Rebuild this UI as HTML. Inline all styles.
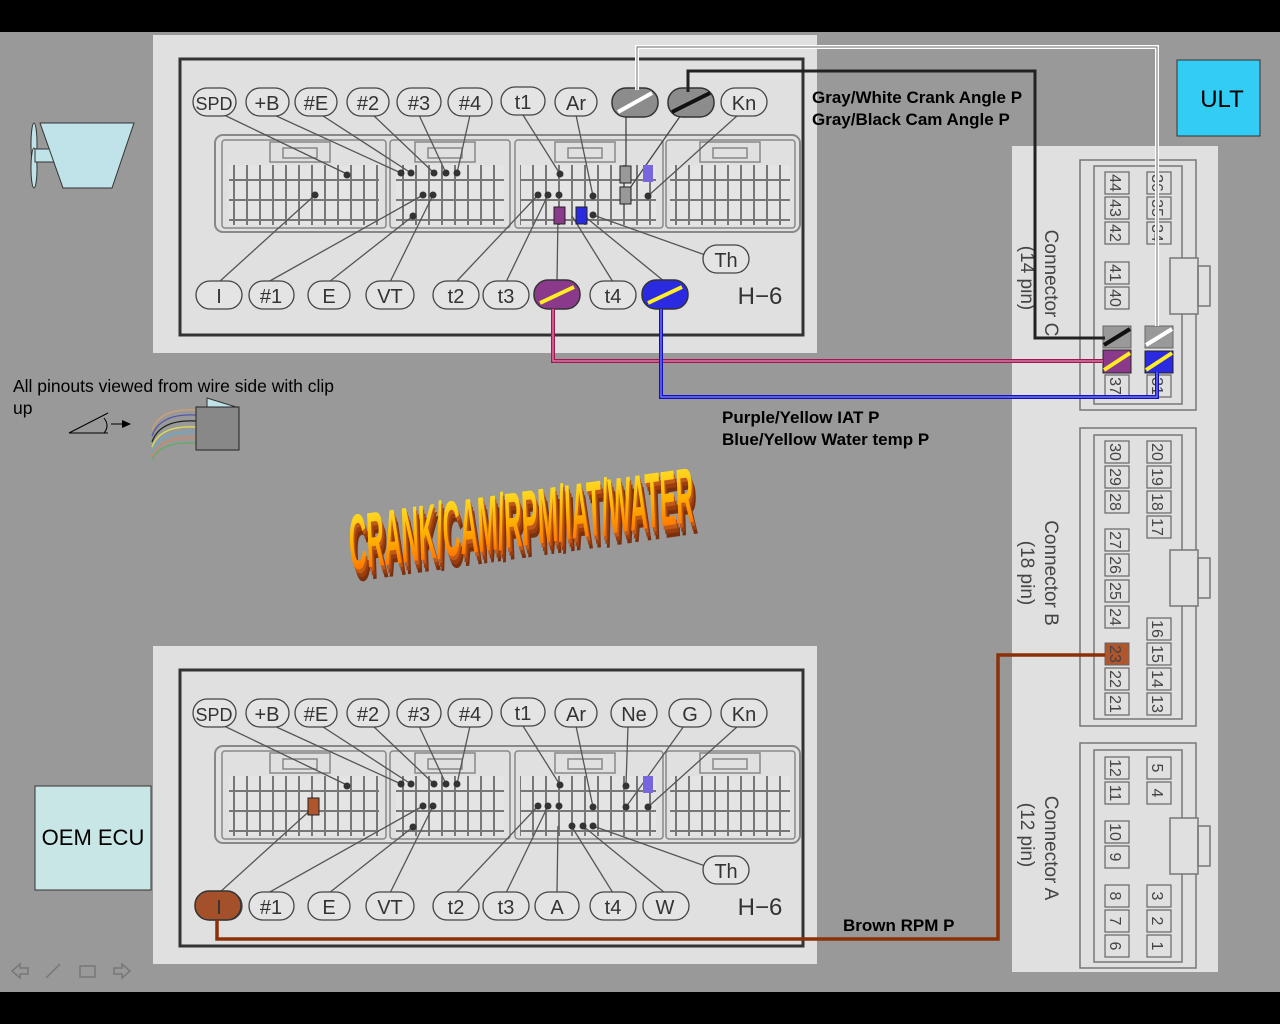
<!DOCTYPE html>
<html><head><meta charset="utf-8"><style>
html,body{margin:0;padding:0;background:#000;}
svg{display:block;font-family:"Liberation Sans",sans-serif;}
</style></head><body>
<svg width="1280" height="1024" viewBox="0 0 1280 1024" xmlns="http://www.w3.org/2000/svg">
<defs>
<pattern id="cell" x="0" y="0" width="13" height="20" patternUnits="userSpaceOnUse">
<rect x="0.5" y="0.5" width="12" height="19" fill="#e4e4e4" stroke="#777" stroke-width="1"/>
</pattern>
<linearGradient id="wa" x1="0" y1="0" x2="0" y2="1">
<stop offset="0" stop-color="#ffee33"/><stop offset="0.5" stop-color="#ffb000"/><stop offset="1" stop-color="#ff5500"/>
</linearGradient>
<g id="ecu">
<rect x="215" y="135" width="585" height="97" rx="8" fill="#e0e0e0" stroke="#888" stroke-width="2"/>
<g fill="none" stroke="#888" stroke-width="1.5">
<rect x="222" y="140" width="164" height="88" rx="3"/>
<rect x="390" y="140" width="120" height="88" rx="3"/>
<rect x="515" y="140" width="148" height="88" rx="3"/>
<rect x="666" y="140" width="129" height="88" rx="3"/>
<rect x="270" y="142" width="60" height="20"/><rect x="283" y="148" width="34" height="10"/>
<rect x="415" y="142" width="60" height="20"/><rect x="428" y="148" width="34" height="10"/>
<rect x="555" y="142" width="60" height="20"/><rect x="568" y="148" width="34" height="10"/>
<rect x="700" y="142" width="60" height="20"/><rect x="713" y="148" width="34" height="10"/>
</g>
<rect x="229" y="165" width="150" height="60" fill="url(#cell)"/>
<rect x="396" y="165" width="108" height="60" fill="url(#cell)"/>
<rect x="520" y="165" width="136" height="60" fill="url(#cell)"/>
<rect x="670" y="165" width="120" height="60" fill="url(#cell)"/>
<g stroke="#555" stroke-width="1.3" fill="none">
<line x1="222" y1="114" x2="347" y2="174"/>
<line x1="272" y1="114" x2="401" y2="173"/>
<line x1="320" y1="114" x2="411" y2="173"/>
<line x1="372" y1="114" x2="434" y2="173"/>
<line x1="419" y1="115" x2="446" y2="173"/>
<line x1="470" y1="115" x2="457" y2="173"/>
<line x1="523" y1="115" x2="560" y2="174"/>
<line x1="576" y1="115" x2="593" y2="196"/>
<line x1="738" y1="115" x2="648" y2="196"/>
<line x1="219" y1="282" x2="315" y2="195"/>
<line x1="268" y1="282" x2="423" y2="195"/>
<line x1="329" y1="282" x2="413" y2="216"/>
<line x1="390" y1="282" x2="433" y2="195"/>
<line x1="456" y1="282" x2="538" y2="195"/>
<line x1="506" y1="282" x2="548" y2="195"/>
<line x1="557" y1="282" x2="558" y2="215"/>
<line x1="613" y1="282" x2="572" y2="216"/>
<line x1="665" y1="282" x2="583" y2="215"/>
<line x1="708" y1="256" x2="593" y2="215"/>
</g>
<g fill="#333">
<circle cx="347" cy="175" r="3.5"/><circle cx="401" cy="173" r="3.5"/><circle cx="411" cy="173" r="3.5"/>
<circle cx="434" cy="173" r="3.5"/><circle cx="446" cy="173" r="3.5"/><circle cx="457" cy="173" r="3.5"/>
<circle cx="560" cy="174" r="3.5"/><circle cx="593" cy="196" r="3.5"/><circle cx="648" cy="196" r="3.5"/>
<circle cx="315" cy="195" r="3.5"/><circle cx="423" cy="195" r="3.5"/><circle cx="433" cy="195" r="3.5"/>
<circle cx="413" cy="216" r="3.5"/><circle cx="538" cy="195" r="3.5"/><circle cx="548" cy="195" r="3.5"/>
<circle cx="559" cy="195" r="3.5"/><circle cx="593" cy="215" r="3.5"/>
</g>
<g fill="#e4e4e4" stroke="#444" stroke-width="1.3">
<rect x="193" y="88" width="43" height="28" rx="14"/><rect x="246" y="88" width="43" height="28" rx="14"/>
<rect x="295" y="88" width="42" height="28" rx="14"/><rect x="347" y="88" width="42" height="28" rx="14"/>
<rect x="397" y="88" width="44" height="28" rx="14"/><rect x="448" y="88" width="44" height="28" rx="14"/>
<rect x="501" y="87" width="44" height="28" rx="14"/><rect x="555" y="88" width="42" height="28" rx="14"/>
<rect x="721" y="88" width="46" height="28" rx="14"/>
<rect x="196" y="281" width="46" height="28" rx="14"/><rect x="249" y="281" width="45" height="28" rx="14"/>
<rect x="308" y="281" width="42" height="28" rx="14"/><rect x="366" y="281" width="48" height="28" rx="14"/>
<rect x="433" y="281" width="46" height="28" rx="14"/><rect x="483" y="281" width="46" height="28" rx="14"/>
<rect x="590" y="281" width="46" height="28" rx="14"/>
<rect x="703" y="245" width="46" height="28" rx="14"/>
</g>
</g>
</defs>
<rect x="0" y="32" width="1280" height="960" fill="#999"/>

<!-- top ECU panel -->
<rect x="153" y="35" width="664" height="318" fill="#e0e0e0"/>
<rect x="180" y="59" width="623" height="276" fill="#e0e0e0" stroke="#333" stroke-width="3"/>
<use href="#ecu"/>
<g font-size="20" fill="#333" text-anchor="middle">
<text x="214" y="110" font-size="18">SPD</text><text x="267" y="110">+B</text><text x="316" y="110">#E</text>
<text x="368" y="110">#2</text><text x="419" y="110">#3</text><text x="470" y="110">#4</text>
<text x="523" y="109">t1</text><text x="576" y="110">Ar</text><text x="744" y="110">Kn</text>
<text x="219" y="303">I</text><text x="271" y="303">#1</text><text x="329" y="303">E</text>
<text x="390" y="303">VT</text><text x="456" y="303">t2</text><text x="506" y="303">t3</text>
<text x="613" y="303">t4</text><text x="726" y="267">Th</text>
<text x="760" y="304" font-size="24">H−6</text>
</g>
<!-- top special -->
<g stroke="#444" stroke-width="1.3">
<line x1="626" y1="115" x2="626" y2="168"/><line x1="681" y1="115" x2="630" y2="188"/>
</g>
<rect x="612" y="88" width="46" height="29" rx="14" fill="#8c8c8c" stroke="#333" stroke-width="1.5"/>
<line x1="618" y1="112" x2="652" y2="93" stroke="#fff" stroke-width="4"/>
<rect x="668" y="88" width="46" height="29" rx="14" fill="#8c8c8c" stroke="#333" stroke-width="1.5"/>
<line x1="672" y1="112" x2="710" y2="93" stroke="#111" stroke-width="4"/>
<rect x="620" y="166" width="11" height="17" fill="#999" stroke="#222"/>
<rect x="620" y="187" width="11" height="17" fill="#999" stroke="#222"/>
<rect x="643" y="165" width="10" height="17" fill="#7766dd"/>
<rect x="554" y="207" width="11" height="17" fill="#8b3a8b" stroke="#222"/>
<rect x="576" y="207" width="11" height="17" fill="#2a2ae0" stroke="#222"/>
<rect x="534" y="280" width="46" height="29" rx="14" fill="#8b3a8b" stroke="#333" stroke-width="1.5"/>
<line x1="540" y1="303" x2="574" y2="287" stroke="#ffee22" stroke-width="4"/>
<rect x="642" y="280" width="46" height="29" rx="14" fill="#2a2ae0" stroke="#333" stroke-width="1.5"/>
<line x1="648" y1="303" x2="682" y2="287" stroke="#ffee22" stroke-width="4"/>

<!-- bottom ECU panel -->
<rect x="153" y="646" width="664" height="318" fill="#e0e0e0"/>
<rect x="180" y="670" width="623" height="276" fill="#e0e0e0" stroke="#333" stroke-width="3"/>
<g transform="translate(0,611)">
<use href="#ecu"/>
<g stroke="#555" stroke-width="1.3"><line x1="628" y1="115" x2="626" y2="174"/><line x1="684" y1="115" x2="626" y2="196"/></g>
<circle cx="626" cy="175" r="3.5" fill="#333"/><circle cx="626" cy="196" r="3.5" fill="#333"/>
<circle cx="583" cy="215" r="3.5" fill="#333"/><circle cx="572" cy="215" r="3.5" fill="#333"/>
<rect x="643" y="165" width="10" height="17" fill="#7766dd"/>
<rect x="308" y="187" width="11" height="17" fill="#b0552c" stroke="#222"/>
<g fill="#e4e4e4" stroke="#444" stroke-width="1.3">
<rect x="611" y="88" width="46" height="28" rx="14"/><rect x="669" y="88" width="42" height="28" rx="14"/>
<rect x="535" y="281" width="44" height="28" rx="14"/><rect x="643" y="281" width="46" height="28" rx="14"/>
</g>
<rect x="195" y="280" width="46" height="29" rx="14" fill="#a4502a" stroke="#333" stroke-width="1.5"/>
</g>
<g font-size="20" fill="#333" text-anchor="middle">
<text x="214" y="721" font-size="18">SPD</text><text x="267" y="721">+B</text><text x="316" y="721">#E</text>
<text x="368" y="721">#2</text><text x="419" y="721">#3</text><text x="470" y="721">#4</text>
<text x="523" y="720">t1</text><text x="576" y="721">Ar</text><text x="634" y="721">Ne</text>
<text x="690" y="721">G</text><text x="744" y="721">Kn</text>
<text x="219" y="914">I</text><text x="271" y="914">#1</text><text x="329" y="914">E</text>
<text x="390" y="914">VT</text><text x="456" y="914">t2</text><text x="506" y="914">t3</text>
<text x="557" y="914">A</text><text x="613" y="914">t4</text><text x="665" y="914">W</text>
<text x="726" y="878">Th</text>
<text x="760" y="915" font-size="24">H−6</text>
</g>

<!-- right connector panel -->
<rect x="1012" y="146" width="206" height="826" fill="#e0e0e0"/>
<g fill="none" stroke="#777" stroke-width="1.5">
<rect x="1080" y="160" width="116" height="250"/><rect x="1094" y="166" width="88" height="238"/>
<rect x="1170" y="258" width="28" height="56" fill="#e0e0e0"/><rect x="1198" y="266" width="12" height="40"/>
<rect x="1080" y="428" width="116" height="298"/><rect x="1094" y="435" width="88" height="284"/>
<rect x="1170" y="550" width="28" height="56" fill="#e0e0e0"/><rect x="1198" y="558" width="12" height="40"/>
<rect x="1080" y="743" width="116" height="225"/><rect x="1094" y="750" width="88" height="212"/>
<rect x="1170" y="818" width="28" height="56" fill="#e0e0e0"/><rect x="1198" y="826" width="12" height="40"/>
</g>
<g fill="#e0e0e0" stroke="#666" stroke-width="1.2">
<rect x="1105" y="172" width="24" height="22"/><rect x="1105" y="197" width="24" height="22"/><rect x="1105" y="222" width="24" height="22"/>
<rect x="1105" y="262" width="24" height="22"/><rect x="1105" y="287" width="24" height="22"/><rect x="1105" y="375" width="24" height="22"/>
<rect x="1147" y="172" width="24" height="22"/><rect x="1147" y="197" width="24" height="22"/><rect x="1147" y="222" width="24" height="22"/>
<rect x="1147" y="375" width="24" height="22"/>
<rect x="1105" y="441" width="24" height="22"/><rect x="1105" y="466" width="24" height="22"/><rect x="1105" y="491" width="24" height="22"/>
<rect x="1105" y="529" width="24" height="22"/><rect x="1105" y="554" width="24" height="22"/><rect x="1105" y="580" width="24" height="22"/><rect x="1105" y="606" width="24" height="22"/>
<rect x="1105" y="668" width="24" height="22"/><rect x="1105" y="693" width="24" height="22"/>
<rect x="1147" y="441" width="24" height="22"/><rect x="1147" y="466" width="24" height="22"/><rect x="1147" y="491" width="24" height="22"/><rect x="1147" y="516" width="24" height="22"/>
<rect x="1147" y="618" width="24" height="22"/><rect x="1147" y="643" width="24" height="22"/><rect x="1147" y="668" width="24" height="22"/><rect x="1147" y="693" width="24" height="22"/>
<rect x="1105" y="757" width="24" height="22"/><rect x="1105" y="782" width="24" height="22"/><rect x="1105" y="821" width="24" height="22"/><rect x="1105" y="846" width="24" height="22"/>
<rect x="1105" y="885" width="24" height="22"/><rect x="1105" y="910" width="24" height="22"/><rect x="1105" y="935" width="24" height="22"/>
<rect x="1147" y="757" width="24" height="22"/><rect x="1147" y="782" width="24" height="22"/>
<rect x="1147" y="885" width="24" height="22"/><rect x="1147" y="910" width="24" height="22"/><rect x="1147" y="935" width="24" height="22"/>
</g>
<rect x="1105" y="643" width="24" height="22" fill="#b0552c" stroke="#666"/>
<g font-size="16" fill="#444">
<text transform="translate(1110,183) rotate(90)" text-anchor="middle">44</text>
<text transform="translate(1110,208) rotate(90)" text-anchor="middle">43</text>
<text transform="translate(1110,233) rotate(90)" text-anchor="middle">42</text>
<text transform="translate(1110,273) rotate(90)" text-anchor="middle">41</text>
<text transform="translate(1110,298) rotate(90)" text-anchor="middle">40</text>
<text transform="translate(1110,386) rotate(90)" text-anchor="middle">37</text>
<text transform="translate(1152,183) rotate(90)" text-anchor="middle">36</text>
<text transform="translate(1152,208) rotate(90)" text-anchor="middle">35</text>
<text transform="translate(1152,233) rotate(90)" text-anchor="middle">34</text>
<text transform="translate(1152,386) rotate(90)" text-anchor="middle">31</text>
<text transform="translate(1110,452) rotate(90)" text-anchor="middle">30</text>
<text transform="translate(1110,477) rotate(90)" text-anchor="middle">29</text>
<text transform="translate(1110,502) rotate(90)" text-anchor="middle">28</text>
<text transform="translate(1110,540) rotate(90)" text-anchor="middle">27</text>
<text transform="translate(1110,565) rotate(90)" text-anchor="middle">26</text>
<text transform="translate(1110,591) rotate(90)" text-anchor="middle">25</text>
<text transform="translate(1110,617) rotate(90)" text-anchor="middle">24</text>
<text transform="translate(1110,654) rotate(90)" text-anchor="middle">23</text>
<text transform="translate(1110,679) rotate(90)" text-anchor="middle">22</text>
<text transform="translate(1110,704) rotate(90)" text-anchor="middle">21</text>
<text transform="translate(1152,452) rotate(90)" text-anchor="middle">20</text>
<text transform="translate(1152,477) rotate(90)" text-anchor="middle">19</text>
<text transform="translate(1152,502) rotate(90)" text-anchor="middle">18</text>
<text transform="translate(1152,527) rotate(90)" text-anchor="middle">17</text>
<text transform="translate(1152,629) rotate(90)" text-anchor="middle">16</text>
<text transform="translate(1152,654) rotate(90)" text-anchor="middle">15</text>
<text transform="translate(1152,679) rotate(90)" text-anchor="middle">14</text>
<text transform="translate(1152,704) rotate(90)" text-anchor="middle">13</text>
<text transform="translate(1110,768) rotate(90)" text-anchor="middle">12</text>
<text transform="translate(1110,793) rotate(90)" text-anchor="middle">11</text>
<text transform="translate(1110,832) rotate(90)" text-anchor="middle">10</text>
<text transform="translate(1110,857) rotate(90)" text-anchor="middle">9</text>
<text transform="translate(1110,896) rotate(90)" text-anchor="middle">8</text>
<text transform="translate(1110,921) rotate(90)" text-anchor="middle">7</text>
<text transform="translate(1110,946) rotate(90)" text-anchor="middle">6</text>
<text transform="translate(1152,768) rotate(90)" text-anchor="middle">5</text>
<text transform="translate(1152,793) rotate(90)" text-anchor="middle">4</text>
<text transform="translate(1152,896) rotate(90)" text-anchor="middle">3</text>
<text transform="translate(1152,921) rotate(90)" text-anchor="middle">2</text>
<text transform="translate(1152,946) rotate(90)" text-anchor="middle">1</text>
</g>
<g font-size="19" fill="#444" text-anchor="middle">
<text transform="translate(1045,283) rotate(90)">Connector C</text>
<text transform="translate(1021,278) rotate(90)">(14 pin)</text>
<text transform="translate(1045,573) rotate(90)">Connector B</text>
<text transform="translate(1021,573) rotate(90)">(18 pin)</text>
<text transform="translate(1045,848) rotate(90)">Connector A</text>
<text transform="translate(1021,835) rotate(90)">(12 pin)</text>
</g>
<!-- colored connector C cells -->
<rect x="1103" y="326" width="28" height="22" fill="#999" stroke="#666"/>
<line x1="1104" y1="345" x2="1130" y2="329" stroke="#111" stroke-width="4"/>
<rect x="1145" y="326" width="28" height="22" fill="#999" stroke="#666"/>
<line x1="1146" y1="345" x2="1172" y2="329" stroke="#fff" stroke-width="4"/>
<rect x="1103" y="350" width="28" height="23" fill="#8b3a8b" stroke="#222"/>
<line x1="1104" y1="370" x2="1130" y2="353" stroke="#ffee22" stroke-width="4"/>
<rect x="1145" y="351" width="28" height="22" fill="#2a2ae0" stroke="#222"/>
<line x1="1146" y1="370" x2="1172" y2="353" stroke="#ffee22" stroke-width="4"/>

<!-- wires -->
<g fill="none">
<polyline points="637,90 637,47 1157,47 1157,326" stroke="#fff" stroke-width="4"/>
<polyline points="637,90 637,47 1157,47 1157,326" stroke="#888" stroke-width="1.2"/>
<polyline points="688,92 688,71 1035,71 1035,338 1105,338" stroke="#222" stroke-width="3"/>
<polyline points="553,309 553,361 1103,361" stroke="#a01850" stroke-width="4"/>
<polyline points="553,309 553,361 1103,361" stroke="#e888b8" stroke-width="1.2"/>
<polyline points="661,309 661,397 1157,397 1157,372" stroke="#1010c0" stroke-width="4"/>
<polyline points="661,309 661,397 1157,397 1157,372" stroke="#8888ff" stroke-width="1.2"/>
<polyline points="217,920 217,939 998,939 998,655 1105,655" stroke="#8b3008" stroke-width="3.5"/>
</g>

<g font-size="17" font-weight="bold" fill="#000">
<text x="812" y="103">Gray/White Crank Angle P</text>
<text x="812" y="125">Gray/Black Cam Angle P</text>
<text x="722" y="423">Purple/Yellow IAT P</text>
<text x="722" y="445">Blue/Yellow Water temp P</text>
<text x="843" y="931">Brown RPM P</text>
</g>
<text x="13" y="392" font-size="17.5" fill="#000">All pinouts viewed from wire side with clip</text>
<text x="13" y="414" font-size="17.5" fill="#000">up</text>

<!-- ULT / OEM -->
<rect x="1177" y="60" width="83" height="76" fill="#33ccf5" stroke="#333"/>
<text x="1222" y="107" font-size="24" fill="#000" text-anchor="middle">ULT</text>
<rect x="35" y="786" width="116" height="104" fill="#c8e6e6" stroke="#333"/>
<text x="93" y="845" font-size="22" fill="#000" text-anchor="middle">OEM ECU</text>

<!-- speaker icon -->
<ellipse cx="34" cy="144" rx="3" ry="21" fill="#bfe3e8" stroke="#333"/>
<ellipse cx="34" cy="168" rx="3" ry="20" fill="#bfe3e8" stroke="#333"/>
<rect x="35" y="149" width="20" height="13" fill="#bfe3e8" stroke="#333"/>
<polygon points="40,123 134,123 112,188 63,188" fill="#bfe3e8" stroke="#333"/>

<!-- eye / connector icon -->
<g stroke="#000" fill="none">
<polyline points="108,413 69,433 108,433"/>
<path d="M104,418 Q110,426 104,433"/>
<line x1="111" y1="424" x2="124" y2="424"/>
</g>
<polygon points="122,420 131,424 122,428" fill="#000"/>
<g fill="none" stroke-width="1.3">
<path d="M196,410 Q160,408 152,430" stroke="#d0a070"/>
<path d="M196,415 Q160,413 152,436" stroke="#5555aa"/>
<path d="M196,421 Q160,419 152,442" stroke="#222"/>
<path d="M196,427 Q160,425 152,447" stroke="#dddd55"/>
<path d="M196,432 Q160,430 152,452" stroke="#66aacc"/>
<path d="M196,438 Q160,436 152,457" stroke="#cc8866"/>
<path d="M196,443 Q160,441 152,460" stroke="#66aa66"/>
</g>
<polygon points="207,398 236,407 207,410" fill="#bfe3e8" stroke="#333"/>
<rect x="196" y="407" width="43" height="43" fill="#888" stroke="#222"/>

<!-- WordArt title -->
<g transform="translate(350,570) rotate(-8) skewX(-6)">
<text x="6" y="6" font-size="38" font-weight="bold" fill="#7a300c" transform="scale(0.64,2.05)">CRANK/CAM/RPM/IAT/WATER</text>
<text x="4" y="4" font-size="38" font-weight="bold" fill="#9a3e10" transform="scale(0.64,2.05)">CRANK/CAM/RPM/IAT/WATER</text>
<text x="2" y="2" font-size="38" font-weight="bold" fill="#c05a18" transform="scale(0.64,2.05)">CRANK/CAM/RPM/IAT/WATER</text>
<text x="0" y="0" font-size="38" font-weight="bold" fill="url(#wa)" transform="scale(0.64,2.05)">CRANK/CAM/RPM/IAT/WATER</text>
</g>

<!-- nav icons -->
<g fill="none" stroke="#777" stroke-width="1.5">
<path d="M12,971 L20,964 L20,968 L28,968 L28,974 L20,974 L20,978 Z"/>
<line x1="46" y1="978" x2="60" y2="964"/>
<rect x="80" y="966" width="15" height="11"/>
<path d="M130,971 L122,964 L122,968 L114,968 L114,974 L122,974 L122,978 Z"/>
</g>
</svg>
</body></html>
